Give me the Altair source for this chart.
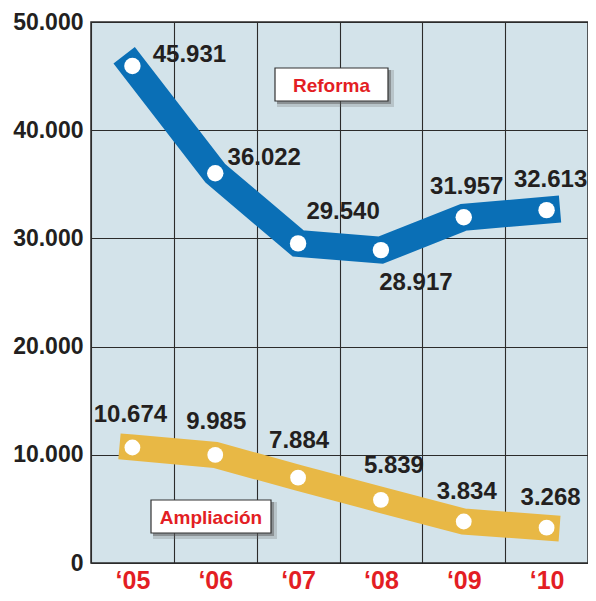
import altair as alt
import pandas as pd

years = ["‘05", "‘06", "‘07", "‘08", "‘09", "‘10"]
reforma = [45931, 36022, 29540, 28917, 31957, 32613]
ampliacion = [10674, 9985, 7884, 5839, 3834, 3268]
y_ticks = [0, 10000, 20000, 30000, 40000, 50000]

# label offsets (pixels) relative to each point
ref_dx = [57, 49, 45, 35, 3, 4]
ref_dy = [-11, -15, -31, 33, -30, -30]
amp_dx = [-2, 1, 1, 13, 3, 4]
amp_dy = [-33, -33, -37, -34, -30, -30]

BLUE = "#0a6fb6"
YELLOW = "#e8b845"
BG = "#d3e3ea"
DARK = "#231f20"
RED = "#e31e24"
FONT = "Liberation Sans"


def fmt(v):
    return f"{v:,}".replace(",", ".")


df_r = pd.DataFrame({"year": years, "value": reforma, "label": [fmt(v) for v in reforma]})
df_a = pd.DataFrame({"year": years, "value": ampliacion, "label": [fmt(v) for v in ampliacion]})

x_enc = alt.X(
    "year:N",
    sort=years,
    bandPosition=0.5,
    scale=alt.Scale(type="band", paddingInner=0, paddingOuter=0),
    axis=alt.Axis(
        title=None, grid=True, tickBand="extent", gridColor="#2b2b2b", gridWidth=1.1,
        domain=False, ticks=False, labelColor=RED, labelFont=FONT, labelFontSize=25,
        labelFontWeight="bold", labelPadding=5, labelAngle=0,
    ),
)
y_enc = alt.Y(
    "value:Q",
    scale=alt.Scale(domain=[0, 50000], nice=False),
    axis=alt.Axis(
        title=None, values=y_ticks, grid=True, gridColor="#2b2b2b", gridWidth=1.1,
        domain=False, ticks=False, labelColor=DARK, labelFont=FONT, labelFontSize=23,
        labelFontWeight="bold", labelPadding=8,
        labelExpr="replace(format(datum.value, ','), ',', '.')",
    ),
)

line_a = alt.Chart(df_a).mark_line(
    color=YELLOW, strokeWidth=26, strokeCap="square", strokeJoin="miter"
).encode(x=x_enc, y=y_enc)
line_r = alt.Chart(df_r).mark_line(
    color=BLUE, strokeWidth=27, strokeCap="square", strokeJoin="miter"
).encode(x=x_enc, y=y_enc)
pts_a = alt.Chart(df_a).mark_circle(color="white", opacity=1, size=250).encode(x=x_enc, y=y_enc)
pts_r = alt.Chart(df_r).mark_circle(color="white", opacity=1, size=270).encode(x=x_enc, y=y_enc)

labels = []
for df, dxs, dys in ((df_r, ref_dx, ref_dy), (df_a, amp_dx, amp_dy)):
    for i in range(len(df)):
        labels.append(
            alt.Chart(df.iloc[[i]]).mark_text(
                font=FONT, fontSize=24, fontWeight="bold", color=DARK,
                dx=dxs[i], dy=dys[i], align="center", baseline="middle",
            ).encode(x=x_enc, y=y_enc, text="label:N")
        )


def legend_box(name, x0, x1, y0, y1):
    d = pd.DataFrame({"t": [name]})
    base = alt.Chart(d)
    sh2 = base.mark_rect(color="#666666", opacity=0.25).encode(
        x=alt.value(x0 + 2), x2=alt.value(x1 + 6), y=alt.value(y0 + 2), y2=alt.value(y1 + 6))
    sh1 = base.mark_rect(color="#555555", opacity=0.45).encode(
        x=alt.value(x0 + 2), x2=alt.value(x1 + 3), y=alt.value(y0 + 2), y2=alt.value(y1 + 3))
    box = base.mark_rect(color="white", stroke="#333333", strokeWidth=1.2).encode(
        x=alt.value(x0), x2=alt.value(x1), y=alt.value(y0), y2=alt.value(y1))
    txt = base.mark_text(
        font=FONT, fontSize=19, fontWeight="bold", color=RED, align="center", baseline="middle"
    ).encode(x=alt.value((x0 + x1) / 2), y=alt.value((y0 + y1) / 2 + 1), text="t:N")
    return [sh2, sh1, box, txt]


boxes = legend_box("Reforma", 184, 297, 46, 79) + legend_box("Ampliación", 60, 180, 478, 511)

chart = alt.layer(line_a, line_r, pts_a, pts_r, *labels, *boxes).properties(
    width=497, height=541,
    autosize=alt.AutoSizeParams(type="none"),
    padding={"left": 83, "top": 14, "right": 0, "bottom": 30},
).configure_view(fill=BG, stroke="#2b2b2b", strokeWidth=1.5)

chart.save("out.html", embed_options={"renderer": "svg", "actions": False})
